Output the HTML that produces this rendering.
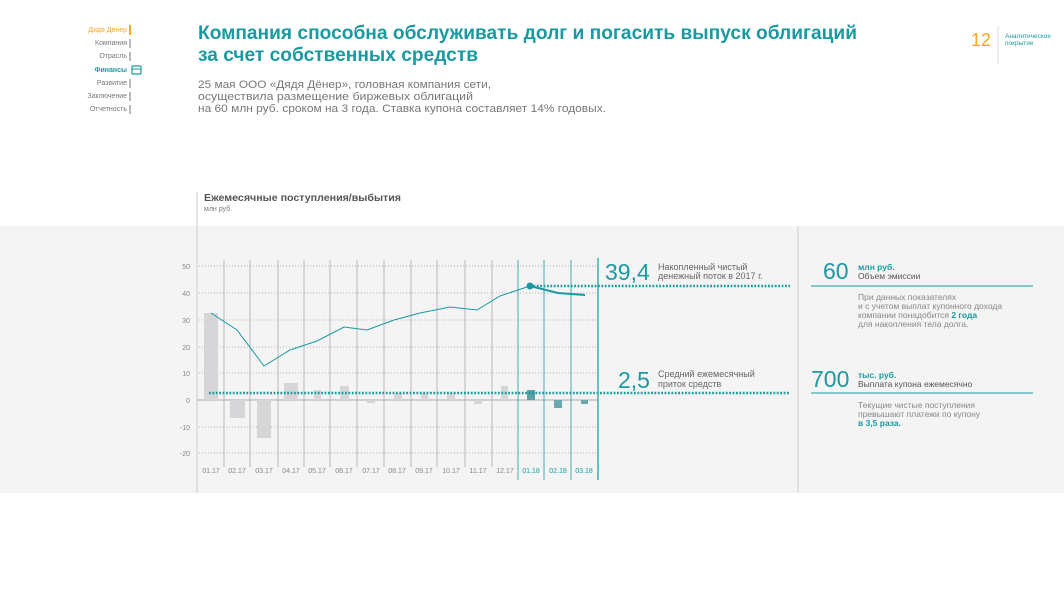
<!DOCTYPE html>
<html><head><meta charset="utf-8"><style>
body{margin:0;background:#fff;width:1064px;height:589px;overflow:hidden}
text{font-family:"Liberation Sans",sans-serif}
</style></head><body>
<svg width="1064" height="589" viewBox="0 0 1064 589" xmlns="http://www.w3.org/2000/svg">
<rect x="0" y="226" width="1064" height="267" fill="#f4f4f4"/>
<!-- nav -->
<g font-size="7" text-anchor="end" fill="#777">
<text x="127" y="32" fill="#f5a623">Дядя Дёнер</text>
<text x="127" y="45">Компания</text>
<text x="127" y="58">Отрасль</text>
<text x="127" y="72" fill="#1a9aa0" font-weight="bold">Финансы</text>
<text x="127" y="85">Развитие</text>
<text x="127" y="98">Заключение</text>
<text x="127" y="111">Отчетность</text>
</g>
<rect x="129" y="25" width="2" height="10" fill="#f5a623"/>
<g fill="#bbb"><rect x="129" y="39" width="2" height="9"/><rect x="129" y="52" width="2" height="9"/><rect x="129" y="79" width="2" height="9"/><rect x="129" y="92" width="2" height="9"/><rect x="129" y="105" width="2" height="9"/></g>
<rect x="132" y="66" width="9" height="8" fill="none" stroke="#1a9aa0" stroke-width="1.2" rx="1"/>
<line x1="132" y1="69" x2="141" y2="69" stroke="#1a9aa0"/>
<!-- title -->
<g fill="#1a9aa0" font-size="19" font-weight="bold">
<text x="198" y="39" textLength="659" lengthAdjust="spacingAndGlyphs">Компания способна обслуживать долг и погасить выпуск облигаций</text>
<text x="198" y="61" textLength="280" lengthAdjust="spacingAndGlyphs">за счет собственных средств</text>
</g>
<text x="971" y="46" font-size="18" fill="#f5a623">12</text>
<line x1="998" y1="26" x2="998" y2="64" stroke="#ddd"/>
<text x="1005" y="38" font-size="6.5" fill="#1a9aa0">Аналитическое</text>
<text x="1005" y="45" font-size="6.5" fill="#1a9aa0">покрытие</text>
<g fill="#777" font-size="11">
<text x="198" y="88" textLength="293" lengthAdjust="spacingAndGlyphs">25 мая ООО «Дядя Дёнер», головная компания сети,</text>
<text x="198" y="100" textLength="275" lengthAdjust="spacingAndGlyphs">осуществила размещение биржевых облигаций</text>
<text x="198" y="112" textLength="408" lengthAdjust="spacingAndGlyphs">на 60 млн руб. сроком на 3 года. Ставка купона составляет 14% годовых.</text>
</g>
<line x1="197" y1="192" x2="197" y2="493" stroke="#ccc"/>
<text x="204" y="201" font-size="10" font-weight="bold" fill="#555" textLength="197" lengthAdjust="spacingAndGlyphs">Ежемесячные поступления/выбытия</text>
<text x="204" y="211" font-size="7" fill="#777">млн руб.</text>
<!-- y grid -->
<g stroke="#999" stroke-dasharray="1,2" stroke-width="0.8">
<line x1="199" y1="266" x2="596" y2="266"/><line x1="199" y1="293" x2="596" y2="293"/><line x1="199" y1="320" x2="596" y2="320"/><line x1="199" y1="347" x2="596" y2="347"/><line x1="199" y1="373" x2="596" y2="373"/><line x1="199" y1="427" x2="596" y2="427"/><line x1="199" y1="453" x2="596" y2="453"/>
</g>
<line x1="197" y1="400" x2="598" y2="400" stroke="#aaa"/>
<g font-size="7" fill="#888" text-anchor="end">
<text x="190" y="269">50</text><text x="190" y="296">40</text><text x="190" y="323">30</text><text x="190" y="350">20</text><text x="190" y="376">10</text><text x="190" y="403">0</text><text x="190" y="430">-10</text><text x="190" y="456">-20</text>
</g>
<!-- verticals -->
<g stroke="#aaa" stroke-width="0.8">
<line x1="224" y1="260" x2="224" y2="467"/><line x1="250" y1="260" x2="250" y2="467"/><line x1="278" y1="260" x2="278" y2="467"/><line x1="304" y1="260" x2="304" y2="467"/><line x1="330" y1="260" x2="330" y2="467"/><line x1="357" y1="260" x2="357" y2="467"/><line x1="384" y1="260" x2="384" y2="467"/><line x1="411" y1="260" x2="411" y2="467"/><line x1="437" y1="260" x2="437" y2="467"/><line x1="465" y1="260" x2="465" y2="467"/><line x1="492" y1="260" x2="492" y2="467"/>
</g>
<g stroke="#1a9aa0" stroke-width="0.8">
<line x1="518" y1="260" x2="518" y2="480"/><line x1="544" y1="260" x2="544" y2="480"/><line x1="571" y1="260" x2="571" y2="480"/><line x1="598" y1="258" x2="598" y2="480" stroke-width="1.2"/>
</g>
<!-- bars -->
<g fill="#d6d6d8">
<rect x="204" y="313" width="14" height="87"/><rect x="230" y="400" width="15" height="18"/><rect x="257" y="400" width="14" height="38"/><rect x="284" y="383" width="14" height="17"/><rect x="314" y="390" width="7" height="10"/><rect x="340" y="386" width="9" height="14"/><rect x="367" y="400" width="8" height="3"/><rect x="394" y="393" width="8" height="7"/><rect x="421" y="393" width="7" height="7"/><rect x="447" y="393" width="8" height="7"/><rect x="474" y="400" width="8" height="4"/><rect x="501" y="386" width="7" height="14"/>
</g>
<g fill="#6aa8ad">
<rect x="527" y="390" width="8" height="10" fill="#5f9ea3"/><rect x="554" y="400" width="8" height="8"/><rect x="581" y="400" width="7" height="4"/>
</g>
<!-- dotted means -->
<g stroke="#1a9aa0" stroke-width="2.5" stroke-dasharray="1.8,1.6">
<line x1="209" y1="393" x2="790" y2="393"/>
<line x1="530" y1="286" x2="790" y2="286"/>
</g>
<polyline fill="none" stroke="#1a9aa0" stroke-width="1" points="211,313 237,330 264,366 290,350 317,341 344,327 367,330 394,320 420,313 450,307 477,310 500,296 530,286"/>
<polyline fill="none" stroke="#1a9aa0" stroke-width="2" points="530,286 558,293 585,295"/>
<circle cx="530" cy="286" r="3.5" fill="#1a9aa0"/>
<!-- month labels -->
<g font-size="7" fill="#888" text-anchor="middle">
<text x="211" y="473">01.17</text><text x="237" y="473">02.17</text><text x="264" y="473">03.17</text><text x="291" y="473">04.17</text><text x="317" y="473">05.17</text><text x="344" y="473">06.17</text><text x="371" y="473">07.17</text><text x="397" y="473">08.17</text><text x="424" y="473">09.17</text><text x="451" y="473">10.17</text><text x="478" y="473">11.17</text><text x="505" y="473">12.17</text>
<g fill="#1a9aa0"><text x="531" y="473">01.18</text><text x="558" y="473">02.18</text><text x="584" y="473">03.18</text></g>
</g>
<!-- callouts -->
<text x="605" y="280" font-size="23" fill="#1a9aa0">39,4</text>
<text x="658" y="270" font-size="9" fill="#666">Накопленный чистый</text>
<text x="658" y="279" font-size="9" fill="#666">денежный поток в 2017 г.</text>
<text x="618" y="388" font-size="23" fill="#1a9aa0">2,5</text>
<text x="658" y="377" font-size="9" fill="#666">Средний ежемесячный</text>
<text x="658" y="387" font-size="9" fill="#666">приток средств</text>
<line x1="798" y1="226" x2="798" y2="493" stroke="#d0d0d0"/>
<text x="823" y="279" font-size="23" fill="#1a9aa0">60</text>
<text x="858" y="270" font-size="8.5" fill="#1a9aa0" font-weight="bold">млн руб.</text>
<text x="858" y="279" font-size="8.5" fill="#555">Объем эмиссии</text>
<line x1="811" y1="286" x2="1033" y2="286" stroke="#1a9aa0"/>
<g font-size="8.5" fill="#888">
<text x="858" y="300">При данных показателях</text>
<text x="858" y="309">и с учетом выплат купонного дохода</text>
<text x="858" y="318">компании понадобится <tspan fill="#1a9aa0" font-weight="bold">2 года</tspan></text>
<text x="858" y="327">для накопления тела долга.</text>
</g>
<text x="811" y="387" font-size="23" fill="#1a9aa0">700</text>
<text x="858" y="378" font-size="8.5" fill="#1a9aa0" font-weight="bold">тыс. руб.</text>
<text x="858" y="387" font-size="8.5" fill="#555">Выплата купона ежемесячно</text>
<line x1="811" y1="393" x2="1033" y2="393" stroke="#1a9aa0"/>
<g font-size="8.5" fill="#888">
<text x="858" y="408">Текущие чистые поступления</text>
<text x="858" y="417">превышают платежи по купону</text>
<text x="858" y="426" fill="#1a9aa0" font-weight="bold">в 3,5 раза.</text>
</g>
</svg>
</body></html>
